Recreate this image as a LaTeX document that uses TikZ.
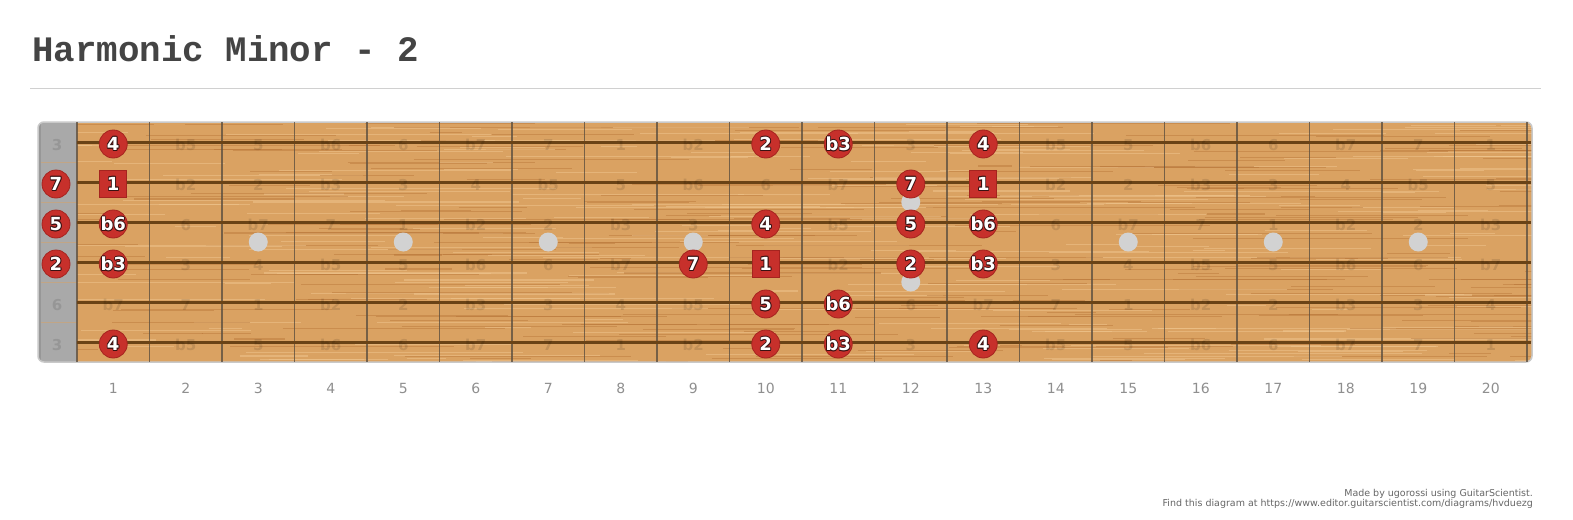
\documentclass[tikz,border=0pt]{standalone}
\usepackage{fontspec}
\newfontfamily\fdv{DejaVu Sans}
\newfontfamily\fmono{Liberation Mono}
\definecolor{titlec}{HTML}{444444}
\definecolor{sepc}{HTML}{D0D0D0}
\definecolor{wood}{HTML}{DAA262}
\definecolor{graindark}{HTML}{B26E32}
\definecolor{grainlight}{HTML}{F0C790}
\definecolor{stringc}{HTML}{6A4316}
\definecolor{fretc}{HTML}{5E5040}
\definecolor{nutgray}{HTML}{A9A9A9}
\definecolor{inlayc}{HTML}{D2D2D2}
\definecolor{borderc}{HTML}{C9C9C9}
\definecolor{mred}{HTML}{C7302B}
\definecolor{mredd}{HTML}{A5241F}
\definecolor{outc}{HTML}{3A1212}
\definecolor{numc}{HTML}{8F8F8F}
\definecolor{footc}{HTML}{666666}
\newcommand\fbmark[5]{%
  \node[#5] (#1) at (#2,#3) {};
  \foreach \a in {0,45,...,315}
    \node[mtxt,text=outc] at ([shift={(\a:0.9pt)}]#1.center) {#4};
  \node[mtxt,text=white] (#1t) at (#1.center) {#4};
}
\begin{document}
\begin{tikzpicture}[x=1pt,y=-1pt,
  sepline/.style={draw=sepc,line width=1pt},
  fretline/.style={draw=fretc,line width=1.8pt,opacity=0.8},
  stringline/.style={draw=stringc,line width=3pt},
  graind/.style={draw=graindark,opacity=0.4},
  grainl/.style={draw=grainlight,opacity=0.5},
  inlay/.style={circle,fill=inlayc,minimum size=19pt,inner sep=0pt},
  faint/.style={font=\fdv\bfseries\fontsize{15}{15}\selectfont,text=black,text opacity=0.11,inner sep=0pt},
  cmark/.style={circle,fill=mred,draw=mredd,line width=0.8pt,minimum size=28pt,inner sep=0pt},
  smark/.style={rectangle,fill=mred,draw=mredd,line width=0.8pt,minimum size=27pt,inner sep=0pt},
  mtxt/.style={font=\fdv\bfseries\fontsize{18}{18}\selectfont,inner sep=0pt},
  fretnum/.style={font=\fdv\fontsize{14}{14}\selectfont,text=numc,inner sep=0pt},
  foot/.style={font=\fdv\fontsize{9.5}{10}\selectfont,text=footc,inner sep=0pt,anchor=east}]
\useasboundingbox (0,0) rectangle (1573,519);
\fill[white] (0,0) rectangle (1573,519);
% title
\node[anchor=base west,font=\fmono\bfseries\fontsize{35.8}{36}\selectfont,text=titlec,inner sep=0pt] (title) at (32,61) {Harmonic Minor - 2};
\coordinate (sepL) at (30,88);
\coordinate (sepR) at (1541,88);
\draw[sepline] (sepL) -- (sepR);
% board
\begin{scope}
  \clip[rounded corners=6pt] (38,122) rectangle (1532,362);
  \fill[wood] (38,122) rectangle (1532,362);
  \pgfmathsetseed{11}
  \foreach \i in {1,...,520}{
    \pgfmathsetmacro\gy{122+240*rnd}
    \pgfmathsetmacro\gx{40+1500*rnd}
    \pgfmathsetmacro\gl{30+250*rnd}
    \pgfmathsetmacro\gw{0.4+0.9*rnd}
    \ifodd\i\relax
      \draw[graind,line width=\gw pt] (\gx,\gy) -- ++(\gl,0);
    \else
      \draw[grainl,line width=\gw pt] (\gx,\gy) -- ++(\gl,0);
    \fi
  }
  \fill[nutgray] (38,122) rectangle (77,362);
  \fill[black!45,opacity=0.6] (38,122) rectangle (40.5,362);
  \foreach \k in {1,...,5}
    \draw[draw=wood,opacity=0.5,line width=0.6pt] (40.5,{142+40*\k-20}) -- (77,{142+40*\k-20});
\end{scope}
\draw[draw=borderc,line width=1.5pt,rounded corners=6pt] (38,122) rectangle (1532,362);
% inlays
\foreach \f in {3,5,7,9,15,17,19}
  \node[inlay] (dot\f) at ({40.75+72.5*\f},242) {};
\node[inlay] (dot12a) at ({40.75+72.5*12},202) {};
\node[inlay] (dot12b) at ({40.75+72.5*12},282) {};
% frets
\foreach \n in {0,...,20}
  \draw[fretline] ({77+72.5*\n},122) -- ({77+72.5*\n},362);
% strings
\foreach \s in {1,...,6}
  \draw[stringline] (77,{142+40*(\s-1)}) -- (1531,{142+40*(\s-1)});
% faint interval labels
\foreach \s/\o in {1/4,2/11,3/7,4/2,5/9,6/4}{
  \foreach \n in {0,...,20}{
    \pgfmathtruncatemacro\iv{mod(\o+\n,12)}
    \pgfmathparse{{"1","b2","2","b3","3","4","b5","5","b6","6","b7","7"}[\iv]}
    \let\lab\pgfmathresult
    \pgfmathsetmacro\lx{ifthenelse(\n==0,57,40.75+72.5*\n)}
    \node[faint] (f\s-\n) at (\lx,{145+40*(\s-1)}) {\lab};
  }
}
% scale markers
\foreach \s/\n/\l/\sh in {
  1/1/4/cmark,1/10/2/cmark,1/11/b3/cmark,1/13/4/cmark,
  2/0/7/cmark,2/1/1/smark,2/12/7/cmark,2/13/1/smark,
  3/0/5/cmark,3/1/b6/cmark,3/10/4/cmark,3/12/5/cmark,3/13/b6/cmark,
  4/0/2/cmark,4/1/b3/cmark,4/9/7/cmark,4/10/1/smark,4/12/2/cmark,4/13/b3/cmark,
  5/10/5/cmark,5/11/b6/cmark,
  6/1/4/cmark,6/10/2/cmark,6/11/b3/cmark,6/13/4/cmark}{
  \pgfmathsetmacro\mx{ifthenelse(\n==0,56,40.75+72.5*\n)}
  \pgfmathsetmacro\my{144+40*(\s-1)}
  \fbmark{m\s-\n}{\mx}{\my}{\l}{\sh}
}
% fret numbers
\foreach \n in {1,...,20}
  \node[fretnum] (num\n) at ({40.75+72.5*\n},388) {\n};
% footer
\node[foot] (foot1) at (1533,494) {Made by ugorossi using GuitarScientist.};
\node[foot] (foot2) at (1533,504) {Find this diagram at https://www.editor.guitarscientist.com/diagrams/hvduezg};
\end{tikzpicture}
\end{document}
